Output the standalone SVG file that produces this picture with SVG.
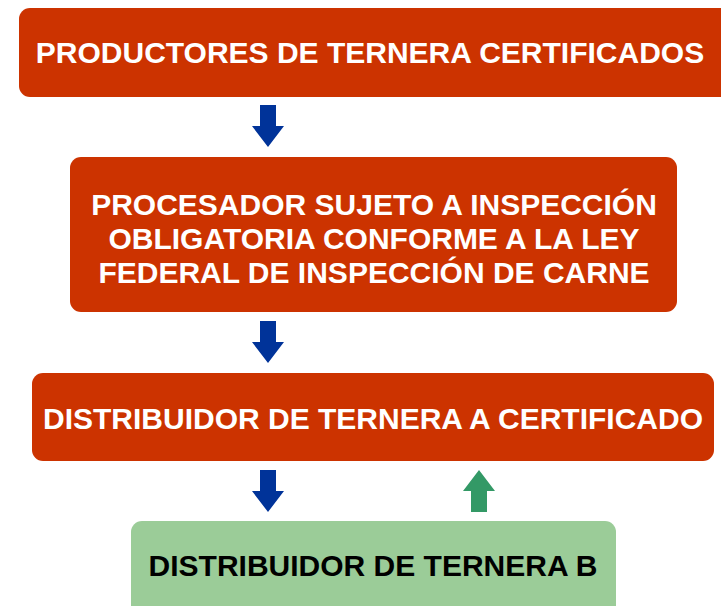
<svg xmlns="http://www.w3.org/2000/svg" width="721" height="606" viewBox="0 0 721 606">
<style>
.red{fill:#cc3300}
.green{fill:#9bcc98}
.t{font-family:"Liberation Sans",Arial,sans-serif;font-weight:bold;font-size:30px;text-anchor:middle}
.w{fill:#ffffff}
.k{fill:#000000}
.blue{fill:#003399}
.up{fill:#339966}
</style>
<defs>
<path id="down" d="M-8,0 H8 V21 H16 L0,42 L-16,21 H-8 Z"/>
</defs>
<rect width="721" height="606" fill="#ffffff"/>
<g id="connectors">
<use href="#down" class="blue" x="268" y="105"/>
<use href="#down" class="blue" x="268" y="321"/>
<use href="#down" class="blue" x="268" y="470"/>
<path class="up" d="M471,512 V491 H463 L479,470 L495,491 H487 V512 Z"/>
</g>
<g id="n1">
<rect class="red" x="19" y="8" width="712" height="89" rx="11"/>
<text class="t w" x="370" y="63">PRODUCTORES DE TERNERA CERTIFICADOS</text>
</g>
<g id="n2">
<rect class="red" x="70" y="157" width="607" height="155" rx="11"/>
<text class="t w" x="374" y="215">PROCESADOR SUJETO A INSPECCIÓN</text>
<text class="t w" x="374" y="249">OBLIGATORIA CONFORME A LA LEY</text>
<text class="t w" x="374" y="283">FEDERAL DE INSPECCIÓN DE CARNE</text>
</g>
<g id="n3">
<rect class="red" x="32" y="373" width="682" height="88" rx="11"/>
<text class="t w" x="373" y="429">DISTRIBUIDOR DE TERNERA A CERTIFICADO</text>
</g>
<g id="n4">
<rect class="green" x="131" y="521" width="485" height="100" rx="11"/>
<text class="t k" x="373" y="576">DISTRIBUIDOR DE TERNERA B</text>
</g>
</svg>
